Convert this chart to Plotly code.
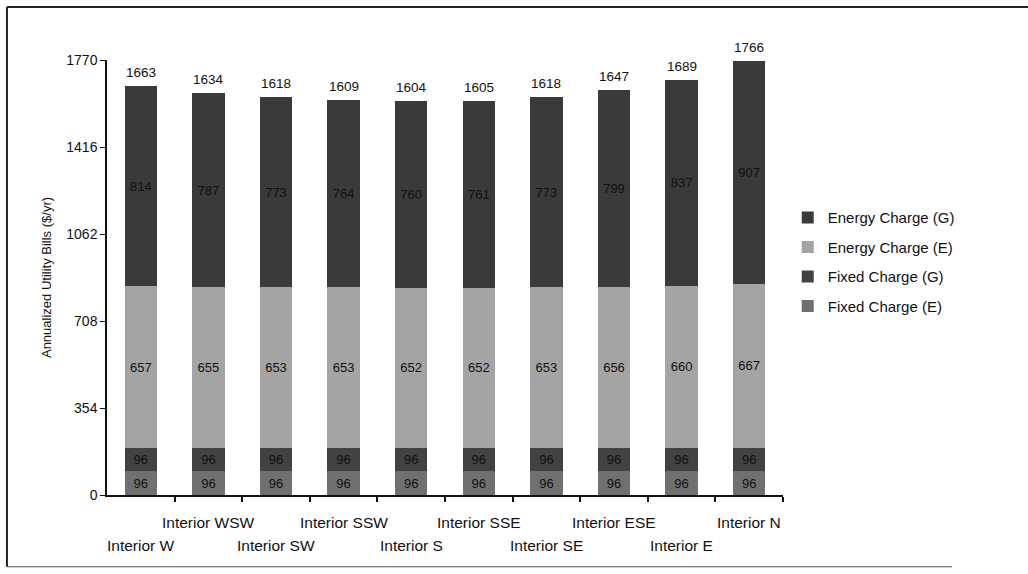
import plotly.graph_objects as go

# Orientation cases and annualized utility bill components ($/yr)
categories = ["Interior W", "Interior WSW", "Interior SW", "Interior SSW", "Interior S",
              "Interior SSE", "Interior SE", "Interior ESE", "Interior E", "Interior N"]
totals = [1663, 1634, 1618, 1609, 1604, 1605, 1618, 1647, 1689, 1766]
fixed_e = [96, 96, 96, 96, 96, 96, 96, 96, 96, 96]
fixed_g = [96, 96, 96, 96, 96, 96, 96, 96, 96, 96]
energy_e = [657, 655, 653, 653, 652, 652, 653, 656, 660, 667]
energy_g = [814, 787, 773, 764, 760, 761, 773, 799, 837, 907]
y_ticks = [0, 354, 708, 1062, 1416, 1770]

FONT = "Liberation Sans, Arial, sans-serif"
x_pos = list(range(len(categories)))

# (name, values, colour, legend rank) from the bottom of the stack upwards
series = [
    ("Fixed Charge (E)", fixed_e, "#707070", 4),
    ("Fixed Charge (G)", fixed_g, "#424242", 3),
    ("Energy Charge (E)", energy_e, "#a4a4a4", 2),
    ("Energy Charge (G)", energy_g, "#3a3a3a", 1),
]

fig = go.Figure()
for name, vals, color, rank in series:
    fig.add_trace(go.Bar(
        x=x_pos, y=vals, name=name, legendgroup=name, legendrank=rank,
        marker=dict(color=color, line=dict(width=0)),
        width=0.48,
        text=vals, texttemplate="%{text}", textposition="inside",
        insidetextanchor="middle", textangle=0, constraintext="none",
        textfont=dict(family=FONT, size=13, color="#111111"),
        hoverinfo="skip",
    ))

annotations = []

# Totals above each stack
for i, t in enumerate(totals):
    annotations.append(dict(
        x=i, xref="x", y=t, yref="y", text=str(t), showarrow=False,
        xanchor="center", yanchor="bottom", yshift=4,
        font=dict(family=FONT, size=13.5, color="#111111"),
    ))

# Staggered category labels: odd cases on the upper row, even on the lower row
for i, cat in enumerate(categories):
    annotations.append(dict(
        x=i, xref="x", y=-0.064 if i % 2 else -0.117, yref="paper",
        text=cat, showarrow=False, xanchor="center", yanchor="middle",
        font=dict(family=FONT, size=15.5, color="#111111"),
    ))

# Frame around the figure
shapes = [
    dict(type="line", xref="paper", yref="paper", x0=-0.148, x1=1.37, y0=1.122, y1=1.122,
         line=dict(color="#222222", width=2)),
    dict(type="line", xref="paper", yref="paper", x0=-0.148, x1=-0.148, y0=1.122, y1=-0.165,
         line=dict(color="#222222", width=2)),
    dict(type="line", xref="paper", yref="paper", x0=-0.148, x1=1.25, y0=-0.165, y1=-0.165,
         line=dict(color="#555555", width=1)),
]

fig.update_layout(
    width=1028, height=574,
    margin=dict(l=107, r=245, t=60, b=79, autoexpand=False),
    paper_bgcolor="white", plot_bgcolor="white",
    barmode="stack",
    font=dict(family=FONT, color="#111111"),
    showlegend=True,
    legend=dict(
        x=1.007, xanchor="left", y=0.536, yanchor="middle",
        traceorder="grouped", tracegroupgap=7,
        font=dict(family=FONT, size=15, color="#111111"),
        bgcolor="rgba(0,0,0,0)",
    ),
    xaxis=dict(
        range=[-0.5, 9.5], tickvals=[i + 0.5 for i in x_pos], ticktext=[""] * len(x_pos),
        ticks="outside", ticklen=5, tickwidth=1.5, tickcolor="#111111",
        showline=True, linecolor="#111111", linewidth=2, showgrid=False, zeroline=False,
    ),
    yaxis=dict(
        range=[0, 1770], tickvals=y_ticks, ticktext=[str(v) for v in y_ticks],
        ticks="outside", ticklen=5, tickwidth=1.2, tickcolor="#111111",
        showline=True, linecolor="#111111", linewidth=1.5, showgrid=False, zeroline=False,
        tickfont=dict(family=FONT, size=14, color="#111111"),
        title=dict(text="Annualized Utility Bills ($/yr)", standoff=12,
                   font=dict(family=FONT, size=13, color="#111111")),
    ),
    annotations=annotations,
    shapes=shapes,
)

fig.write_html("out.html")
